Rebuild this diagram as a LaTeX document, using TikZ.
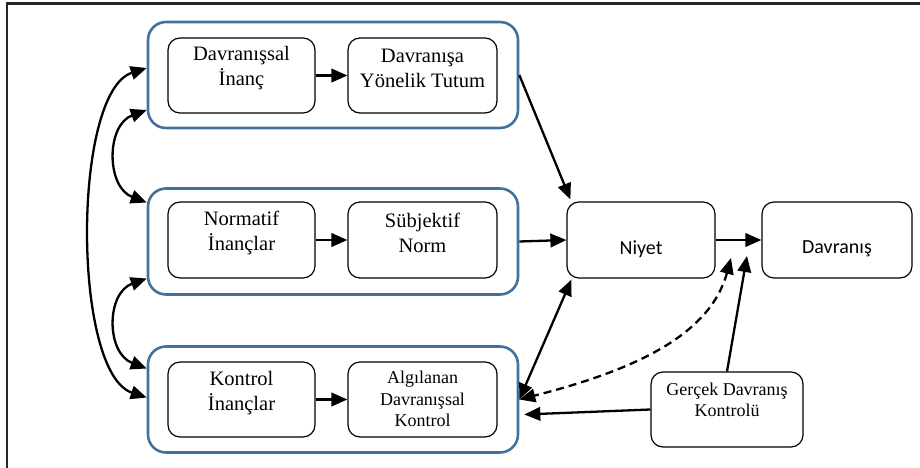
\documentclass[tikz,border=0pt]{standalone}
\usepackage{fontspec}
\setmainfont{Liberation Serif}
\newfontfamily\calibrifont{Carlito}
\usetikzlibrary{arrows.meta}
\definecolor{groupblue}{RGB}{65,113,156}
\tikzset{
  group/.style={draw=groupblue, line width=2.6pt, rounded corners=18pt, minimum width=370pt, minimum height=106pt},
  box/.style={draw=black, line width=1.2pt, rounded corners=12pt, minimum height=75pt},
  txt/.style={align=center, font=\fontsize{20.5}{25}\selectfont},
  smalltxt/.style={align=center, font=\fontsize{18}{21.5}\selectfont},
  sanstxt/.style={font=\calibrifont\fontsize{20}{24}\selectfont},
  tip/.tip={Triangle[length=16pt,width=13.5pt]},
  arr/.style={line width=2.3pt, -tip},
  dbl/.style={line width=2.3pt, tip-tip},
}
\begin{document}
\begin{tikzpicture}[x=1pt,y=-1pt]
\useasboundingbox (0,0) rectangle (920,468);
% frame edges
\draw[line width=2.2pt, black!85] (7,480) -- (7,3.5) -- (930,3.5);

% grouped belief/attitude boxes
\node[group] (g1) at (333,75) {};
\node[group] (g2) at (333,241.5) {};
\node[group] (g3) at (333,399.5) {};

\node[box, minimum width=147pt] (a1) at (241.5,75.5) {};
\node[box, minimum width=149pt] (a2) at (422.5,75.5) {};
\node[box, minimum width=147pt, minimum height=76pt] (b1) at (241.5,240) {};
\node[box, minimum width=149pt, minimum height=76pt] (b2) at (422.5,240) {};
\node[box, minimum width=147pt] (c1) at (241.5,399.5) {};
\node[box, minimum width=149pt] (c2) at (422.5,399.5) {};

\node[txt] (ta1) at (241.5,68) {Davranışsal\\İnanç};
\node[txt] (ta2) at (422.5,68) {Davranışa\\Yönelik Tutum};
\node[txt] (tb1) at (241.5,233) {Normatif\\İnançlar};
\node[txt] (tb2) at (422.5,233) {Sübjektif\\Norm};
\node[txt] (tc1) at (241.5,393) {Kontrol\\İnançlar};
\node[smalltxt] (tc2) at (422.5,399) {Algılanan\\Davranışsal\\Kontrol};

% intention, behaviour and actual control
\node[box, minimum width=148pt, minimum height=76pt] (niyet) at (641,240) {};
\node[box, minimum width=150pt, minimum height=76pt] (davr) at (837,240) {};
\node[box, minimum width=152pt] (gercek) at (727,409.5) {};
\node[sanstxt] (tn) at (641,249) {Niyet};
\node[sanstxt] (td) at (837,249) {Davranış};
\node[smalltxt] (tg) at (727,400) {Gerçek Davranış\\Kontrolü};

% arrows inside groups
\draw[arr] (a1.east) -- (a2.west);
\draw[arr] (b1.east) -- (b2.west);
\draw[arr] (c1.east) -- (c2.west);

% correlations between groups
\coordinate (l1a) at ([yshift=7pt]g1.west);
\coordinate (l3b) at ([yshift=2pt]g3.west);
\coordinate (l1b) at ([yshift=-35pt]g1.west);
\coordinate (l2a) at ([yshift=39pt]g2.west);
\coordinate (l2b) at ([yshift=-37pt]g2.west);
\coordinate (l3a) at ([yshift=31pt]g3.west);
\draw[dbl] (l1a) .. controls (72,92) and (72,373) .. (l3b);
\draw[dbl] (l1b) .. controls (106,125) and (106,187) .. (l2a);
\draw[dbl] (l2b) .. controls (106,293) and (106,353) .. (l3a);

% paths into intention and behaviour
\coordinate (nw) at ([xshift=4pt,yshift=2pt]niyet.north west);
\coordinate (sw) at ([xshift=5pt,yshift=-1pt]niyet.south west);
\coordinate (pd) at (731,258);
\coordinate (pg) at (747,256);
\coordinate (c3low) at ([xshift=5pt,yshift=-15pt]g3.east);
\draw[arr] (g1.east) -- (nw);
\draw[arr] (g2.east) -- (niyet.west);
\draw[arr] (niyet.east) -- (davr.west);
\draw[dbl] (g3.east) -- (sw);
\draw[dbl, dash pattern=on 8pt off 5pt] (pd) .. controls (710,335) and (635,370) .. (g3.east);
\draw[arr] (gercek.north) -- (pg);
\draw[arr] (gercek.west) -- (c3low);
\end{tikzpicture}
\end{document}
